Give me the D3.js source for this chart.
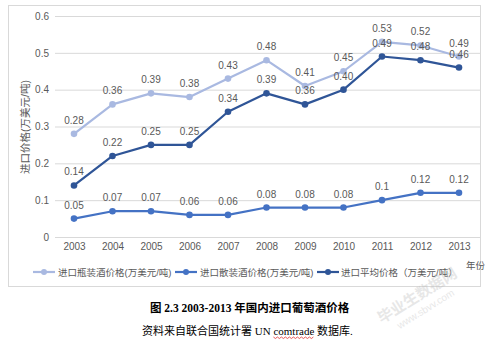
<!DOCTYPE html>
<html><head><meta charset="utf-8">
<script src="https://cdn.jsdelivr.net/npm/d3@7"></script>
<style>
body{margin:0;background:#fff;}
svg{display:block;}
</style></head>
<body><svg id="c" width="490" height="340"></svg>
<script>
const years = ["2003","2004","2005","2006","2007","2008","2009","2010","2011","2012","2013"];
const bottled = [0.28,0.36,0.39,0.38,0.43,0.48,0.41,0.45,0.53,0.52,0.49];
const bulk = [0.05,0.07,0.07,0.06,0.06,0.08,0.08,0.08,0.1,0.12,0.12];
const average = [0.14,0.22,0.25,0.25,0.34,0.39,0.36,0.40,0.49,0.48,0.46];
const bottledLabels = ["0.28","0.36","0.39","0.38","0.43","0.48","0.41","0.45","0.53","0.52","0.49"];
const bulkLabels = ["0.05","0.07","0.07","0.06","0.06","0.08","0.08","0.08","0.1","0.12","0.12"];
const averageLabels = ["0.14","0.22","0.25","0.25","0.34","0.39","0.36","0.40","0.49","0.48","0.46"];
const yTicks = [0,0.1,0.2,0.3,0.4,0.5,0.6];
const seriesNames = ["进口瓶装酒价格(万美元/吨)","进口散装酒价格(万美元/吨)","进口平均价格（万美元/吨）"];

const svg = d3.select("#c");
const font = "'Liberation Sans','Noto Sans CJK SC',sans-serif";
const txt = "#595959";

svg.append("rect").attr("x",8.5).attr("y",5.5).attr("width",472).attr("height",281)
  .attr("fill","#fff").attr("stroke","#d9d9d9");

const x = d3.scalePoint().domain(years).range([74,459]);
const y = d3.scaleLinear().domain([0,0.6]).range([237,16]);

svg.append("g").selectAll("line").data(yTicks).join("line")
  .attr("x1",55).attr("x2",480).attr("y1",d=>y(d)+0.5).attr("y2",d=>y(d)+0.5)
  .attr("stroke","#d9d9d9").attr("stroke-width",1);

const ya = svg.append("g").attr("transform","translate(49,0)")
  .call(d3.axisLeft(y).tickValues(yTicks).tickSize(0).tickPadding(0).tickFormat(d=>d===0?"0":d3.format(".1f")(d)));
ya.select(".domain").remove();
ya.selectAll("text").attr("font-family",font).attr("font-size",10).attr("fill",txt);

const xa = svg.append("g").attr("transform","translate(0,243)")
  .call(d3.axisBottom(x).tickSize(0).tickPadding(0));
xa.select(".domain").remove();
xa.selectAll("text").attr("font-family",font).attr("font-size",10).attr("fill",txt);

svg.append("text").attr("transform","translate(29,127) rotate(-90)")
  .attr("text-anchor","middle").attr("font-family",font).attr("font-size",10.5).attr("fill",txt)
  .text("进口价格(万美元/吨)");

const series = [
  {vals:bottled, labels:bottledLabels, color:"#a9b9e1"},
  {vals:bulk, labels:bulkLabels, color:"#4472c4"},
  {vals:average, labels:averageLabels, color:"#2f5597"}
];
const line = d3.line().x((d,i)=>x(years[i])).y(d=>y(d));
series.forEach(s=>{
  svg.append("path").datum(s.vals).attr("d",line).attr("fill","none")
    .attr("stroke",s.color).attr("stroke-width",2.2).attr("stroke-linejoin","round");
  svg.append("g").selectAll("circle").data(s.vals).join("circle")
    .attr("cx",(d,i)=>x(years[i])).attr("cy",d=>y(d)).attr("r",3.3).attr("fill",s.color);
});
series.forEach(s=>{
  svg.append("g").selectAll("text").data(s.vals).join("text")
    .attr("x",(d,i)=>x(years[i])).attr("y",d=>y(d)-10)
    .attr("text-anchor","middle").attr("font-family",font).attr("font-size",10).attr("fill",txt)
    .text((d,i)=>s.labels[i]);
});

const legX = [33,175,317];
const legText = [58,200,341];
series.forEach((s,i)=>{
  const g = svg.append("g");
  g.append("line").attr("x1",legX[i]).attr("x2",legX[i]+22).attr("y1",272).attr("y2",272)
    .attr("stroke",s.color).attr("stroke-width",2.2);
  g.append("circle").attr("cx",legX[i]+11).attr("cy",272).attr("r",3).attr("fill",s.color);
  g.append("text").attr("x",legText[i]).attr("y",275.5).attr("font-family",font).attr("font-size",9.5)
    .attr("fill",txt).text(seriesNames[i]);
});
svg.append("text").attr("x",466).attr("y",269).attr("font-family",font).attr("font-size",9.5)
  .attr("fill",txt).text("年份");

const wm = svg.append("g").attr("transform","translate(420,300) rotate(-32)").attr("opacity",0.35);
wm.append("text").attr("x",0).attr("y",0).attr("text-anchor","middle").attr("font-family",font)
  .attr("font-size",15).attr("font-weight","bold").attr("fill","#bbb").text("毕业生数据网");
wm.append("text").attr("x",0).attr("y",14).attr("text-anchor","middle").attr("font-family",font)
  .attr("font-size",10).attr("fill","#bbb").text("www.sbvv.com");

const serif = "'Liberation Serif','Noto Sans CJK SC',serif";
svg.append("text").attr("x",150).attr("y",312).attr("font-family",serif).attr("font-size",11.5)
  .attr("font-weight","bold").attr("fill","#000").text("图 2.3 2003-2013 年国内进口葡萄酒价格");
const cap2 = svg.append("text").attr("x",142).attr("y",335).attr("font-family",serif).attr("font-size",11)
  .attr("fill","#000").text("资料来自联合国统计署 UN comtrade 数据库.");
// red wavy underline under "comtrade"
const full = cap2.text();
const start = full.indexOf("comtrade");
const node = cap2.node();
const x0 = 142 + node.getSubStringLength(0,start);
const w = node.getSubStringLength(start,8);
const pts = [];
for(let px=0; px<=w; px+=2){ pts.push([x0+px, 337 + ((px/2)%2===0?0:1.5)]); }
svg.append("path").attr("d",d3.line()(pts)).attr("fill","none").attr("stroke","#e03030").attr("stroke-width",0.8);
</script></body></html>
